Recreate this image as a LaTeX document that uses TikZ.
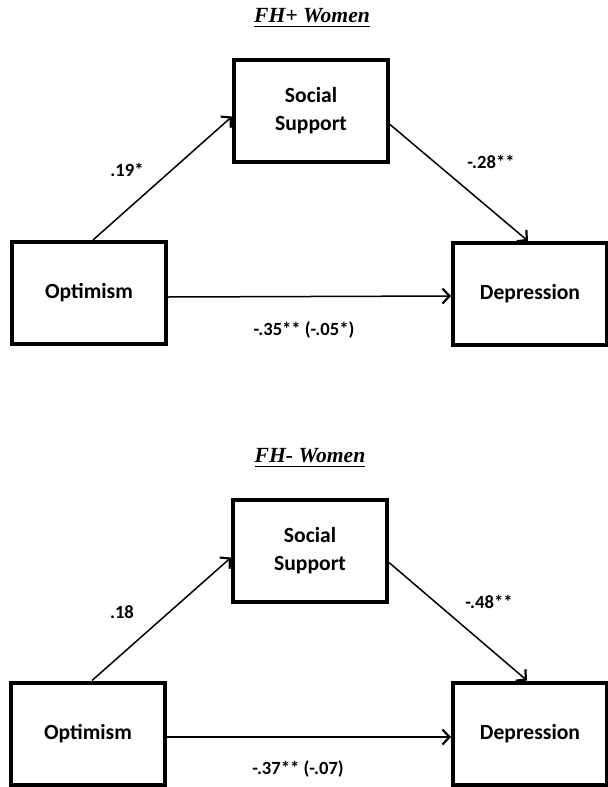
\documentclass[tikz,border=0pt]{standalone}
\usepackage{fontspec}
\setmainfont{Carlito}
\newfontfamily\titlefont{Liberation Serif}
\usepackage{tikz}
\usetikzlibrary{arrows.meta}

\tikzset{
  varbox/.style={draw, line width=2pt, minimum width=77pt, minimum height=51pt,
    inner sep=0pt, align=center, font=\fontsize{10.8}{14}\selectfont\bfseries},
  path/.style={line width=0.75pt, -{Straight Barb[length=3.5pt,width=7.5pt,line width=1.1pt]}},
  coef/.style={font=\fontsize{9.3}{11}\selectfont\bfseries, inner sep=0pt},
  heading/.style={font=\fontsize{10.8}{13}\selectfont\titlefont\bfseries\itshape, inner sep=0pt}
}

\begin{document}
\begin{tikzpicture}[x=0.5pt, y=-0.5pt]
      \useasboundingbox (0,0) rectangle (607,787);

      \node[heading] (title1) at (312,18) {\underline{FH+ Women}};
      \node[varbox] (ss1) at (311,110.5) {Social\\Support};
      \node[varbox] (opt1) at (89,293) {Optimism};
      \node[varbox] (dep1) at (530,294) {Depression};

      \draw[path] ([xshift=2pt]opt1.north) -- ([yshift=-3pt]ss1.west);
      \draw[path] ([yshift=-7pt]ss1.east) -- ([xshift=-1pt]dep1.north);
      \draw[path] ([yshift=-2pt]opt1.east) -- ([yshift=-1pt]dep1.west);

      \node[coef] (a1) at (127,170) {.19*};
      \node[coef] (b1) at (491,162) {-.28**};
      \node[coef] (c1) at (304,330) {-.35** (-.05*)};

      \node[heading] (title2) at (310,458) {\underline{FH- Women}};
      \node[varbox] (ss2) at (310,550.5) {Social\\Support};
      \node[varbox] (opt2) at (88,733.5) {Optimism};
      \node[varbox] (dep2) at (530,733.5) {Depression};

      \draw[path] ([xshift=2pt]opt2.north) -- ([yshift=-3.5pt]ss2.west);
      \draw[path] ([yshift=-6pt]ss2.east) -- ([xshift=-1.5pt]dep2.north);
      \draw[path] ([yshift=-1.75pt]opt2.east) -- ([yshift=-1.75pt]dep2.west);

      \node[coef] (a2) at (122,612) {.18};
      \node[coef] (b2) at (489,602) {-.48**};
      \node[coef] (c2) at (298,769) {-.37** (-.07)};
\end{tikzpicture}
\end{document}
